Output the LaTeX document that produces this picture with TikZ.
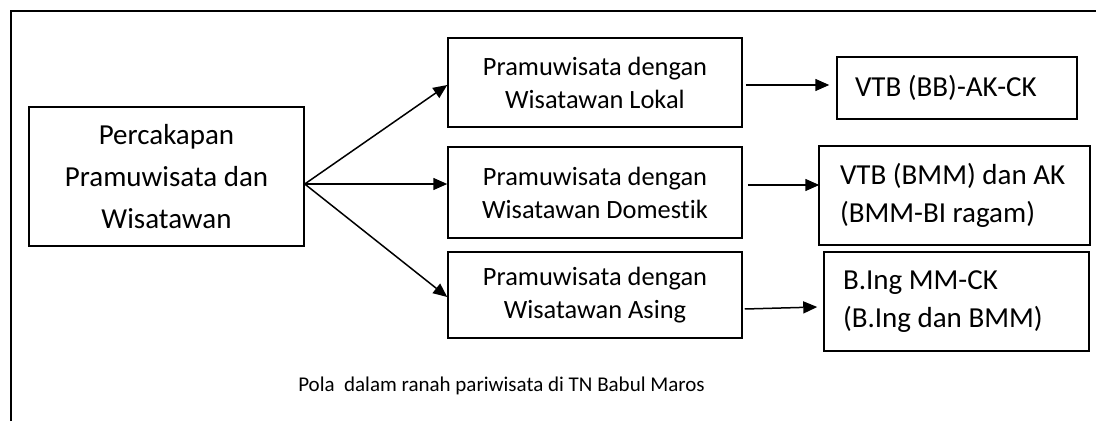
\documentclass[tikz,border=0pt]{standalone}
\usepackage{fontspec}
\setmainfont{Carlito}[Ligatures=NoCommon]
\usetikzlibrary{arrows.meta}

\begin{document}
\begin{tikzpicture}[x=1pt, y=-1pt, >={Triangle[length=14pt,width=12pt]}, line width=1.5pt,
    box/.style={draw, inner sep=0pt},
    main/.style={box, align=center, minimum width=275pt, minimum height=139pt, font=\fontsize{29}{42}\selectfont},
    mid/.style={box, align=center, minimum width=294pt, font=\fontsize{26.4}{33}\selectfont},
    res/.style={box, align=flush left, font=\fontsize{29}{38}\selectfont}]
                \useasboundingbox (0,0) rectangle (1096,421);
                \draw[line width=2pt] (11,421) -- (11,11) -- (1096,11);

                \node[main] (pcp) at (166.5,176.5) {Percakapan\\Pramuwisata dan\\Wisatawan};

                \node[mid, minimum height=89pt] (lokal) at (595,82.5) {Pramuwisata dengan\\Wisatawan Lokal};
                \node[mid, minimum height=91pt] (domestik) at (595,192.5) {Pramuwisata dengan\\Wisatawan Domestik};
                \node[mid, minimum height=86pt] (asing) at (595,295) {Pramuwisata dengan\\Wisatawan Asing};

                % text sits near the left side of the result boxes
                \node[res, inner xsep=18pt, text width=204pt, minimum height=62pt] (vtbbb) at (957,88) {\mbox{VTB (BB)-AK-CK}};
                \node[res, inner xsep=21pt, text width=229pt, minimum height=99pt] (vtbbmm) at (954.5,195.5) {\mbox{VTB (BMM) dan AK}\\\mbox{(BMM-BI ragam)}};
                \node[res, inner xsep=19pt, text width=227pt, minimum height=99pt] (bing) at (956.5,301.5) {\mbox{B.Ing MM-CK}\\\mbox{(B.Ing dan BMM)}};

                \node[font=\fontsize{21}{25}\selectfont] (cap) at (501.5,386) {Pola\ \ dalam ranah pariwisata di TN Babul Maros};

                \coordinate (fork) at ([yshift=-7.5pt]pcp.east);
                \coordinate (o1) at ([xshift=3pt,yshift=-2.5pt]lokal.east);
                \coordinate (o2) at ([xshift=5pt,yshift=7.5pt]domestik.east);
                \coordinate (o3) at ([xshift=2pt,yshift=-14pt]asing.east);
                \coordinate (t1) at ([xshift=-7pt,yshift=3pt]vtbbb.west);
                \coordinate (t2) at ([xshift=1pt,yshift=10.5pt]vtbbmm.west);
                \coordinate (t3) at ([xshift=-6pt,yshift=-5.5pt]bing.west);

                \path[->]
                (fork) edge ([yshift=-2.5pt]lokal.west)
                (fork) edge (fork -| domestik.west)
                (fork) edge ([yshift=-2pt]asing.west)
                (o1) edge (t1)
                (o2) edge (t2)
                (o3) edge (t3);
              \end{tikzpicture}
\end{document}
